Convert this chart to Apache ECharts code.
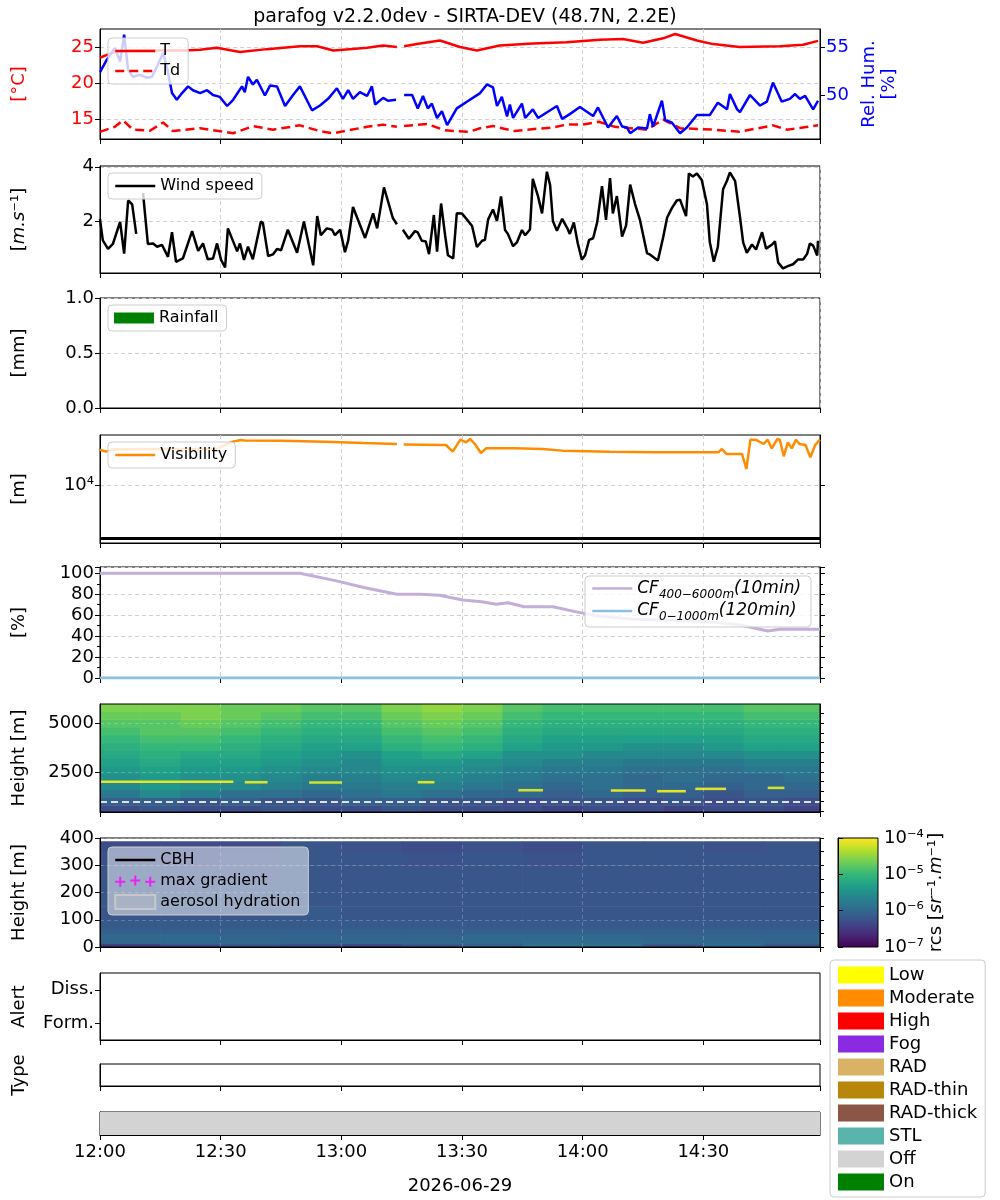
<!DOCTYPE html>
<html>
<head>
<meta charset="utf-8">
<title>parafog</title>
<script src="https://cdn.jsdelivr.net/npm/echarts@6/dist/echarts.min.js"></script>
<style>
html, body { margin: 0; padding: 0; background: #fff; }
#chart { width: 1000px; height: 1200px; }
</style>
</head>
<body>
<div id="chart"></div>
<script>
// all times are minutes after 12:00 (2026-06-29)
var FONT = 'DejaVu Sans';
var GRID_COLOR = '#d0d0d0';

// temperature [°C]
var tempT = [[0,23.5],[1.7,23.9],[3.7,24.3],[7.5,24.5],[15,24.5],[21,24.5],[24.9,24.6],[29,24.9],[34.8,24.3],[41.5,24.7],[49.7,25.1],[54,25.1],[58,24.5],[62,24.7],[66.4,24.9],[70.4,25.2],[73.8,25.0],[74.7,'-'],[75.6,25.1],[78.8,25.4],[84.5,25.9],[89.5,25.0],[93.7,24.5],[99.4,25.2],[107.6,25.5],[116,25.65],[124.3,26.0],[130,26.1],[135,25.6],[140,26.2],[143,26.8],[148.4,25.9],[152.4,25.4],[159,25.0],[169,25.1],[174.8,25.3],[178.5,25.85]];
// dew point [°C]
var tempTd = [[0,13.2],[3.7,13.9],[5.7,14.8],[8.2,13.5],[12.4,13.35],[15.7,14.5],[18.1,13.3],[24.9,13.7],[33.1,13.0],[38.1,14.0],[43,13.5],[49.7,14.1],[54.7,13.3],[58,13.0],[66.4,13.9],[70.4,14.2],[73.8,13.9],[74.7,'-'],[75.6,14.0],[81.3,14.3],[85.8,13.4],[91.7,13.2],[94.5,13.7],[97.7,14.0],[103,13.3],[108,13.6],[112.5,13.8],[116,14.2],[120,14.2],[124,14.6],[128,13.9],[136,13.5],[140,14.9],[144.2,13.7],[152.4,13.5],[159,13.2],[167.3,14.1],[170.8,13.5],[178.5,14.1]];
// relative humidity [%]
var relHum = [[0,52.4],[1.7,53.7],[3.7,54.9],[5,53.5],[6,56.3],[7,52.6],[8.2,51.9],[9.9,52.1],[11.7,51.8],[12.9,51.9],[14.2,53.0],[15.7,54.4],[16.7,52.8],[17.9,50.2],[19.1,49.5],[20.4,50.2],[21.9,50.9],[23.1,50.5],[24.9,50.2],[26.6,50.5],[28.1,50.0],[29.8,49.8],[31.6,48.85],[33.1,49.5],[35.3,50.9],[36,50.3],[36.8,51.9],[38,51.1],[39,51.6],[41,49.95],[42.3,51.0],[44,50.9],[46,48.85],[48,50.0],[49.7,50.9],[52.7,48.4],[54.7,48.9],[56.7,49.6],[58.9,50.7],[60.4,49.6],[61.7,50.5],[62.9,49.6],[64.6,50.3],[66.4,49.9],[67.6,50.9],[68.4,49.0],[70.4,49.7],[71.6,49.4],[73.6,49.5],[74.7,'-'],[75.6,50.0],[77.6,50.0],[79,48.6],[80.3,49.9],[81.5,48.6],[82.5,49.1],[83.8,47.6],[85,48.3],[86.3,46.85],[88.7,48.6],[91.2,49.3],[94.5,50.2],[96.2,51.1],[97.7,50.8],[98.7,48.85],[99.9,49.8],[101.2,47.75],[101.9,49.0],[102.7,47.6],[104.9,49.1],[105.7,47.6],[107.6,48.5],[108.9,47.6],[113.6,48.85],[114.9,47.5],[116.8,48.0],[119.3,48.75],[122.6,47.8],[123.8,48.7],[126.3,46.6],[128.5,47.8],[129.8,46.7],[131,46.6],[131.8,46.0],[133.8,46.6],[136,46.5],[136.7,48.0],[137.5,46.7],[139.7,49.4],[140.5,47.4],[142.2,47.1],[144.2,46.0],[145.9,46.6],[148.4,47.9],[151.6,47.9],[153.6,49.2],[155.9,48.5],[156.6,50.1],[158.4,48.5],[159.1,48.2],[161.6,50.0],[164.1,48.9],[165.8,49.3],[167.3,51.3],[169.5,49.3],[171.5,49.6],[172.8,50.1],[174,49.6],[175.3,49.9],[177.3,48.5],[178.5,49.4]];
// wind speed [m/s]
var windSpeed = [[0,2.09],[0.7,1.31],[2,1.0],[3.2,1.18],[5,1.99],[6,0.83],[7,2.77],[8,2.63],[9,1.55],[9.8,'-'],[10.7,3.04],[11.9,1.18],[13.2,1.2],[14.2,1.08],[15.4,1.15],[16.9,0.71],[17.9,1.61],[18.9,0.53],[20.6,0.65],[22.9,1.65],[24.4,0.93],[25.6,1.2],[26.8,0.62],[28.1,0.65],[29.1,1.2],[30.1,0.6],[31.1,0.32],[31.8,1.75],[34.1,0.91],[34.8,1.2],[35.8,0.6],[36.8,1.08],[38,0.62],[40,2.0],[40.5,1.95],[41.8,0.74],[43,0.8],[44,1.0],[45,0.95],[46.7,1.7],[49,0.86],[50.7,2.0],[53,0.4],[54,2.2],[54.9,1.5],[56.4,1.75],[57.7,1.7],[58.4,1.5],[59.7,1.7],[60.9,0.88],[61.7,1.3],[62.9,2.53],[65.9,1.4],[67.9,2.3],[68.9,1.75],[70.6,3.25],[72.8,2.13],[73.8,1.9],[74.7,'-'],[75.3,1.7],[76.8,1.37],[78.3,1.65],[79,1.6],[80,1.3],[81,1.27],[81.8,0.81],[83,2.24],[83.8,0.9],[84.8,2.66],[85.8,1.5],[86.5,0.77],[87.8,0.65],[88.7,2.3],[90,2.29],[91.2,2.08],[92.5,1.84],[93.7,1.07],[95,1.3],[95.7,1.33],[96.5,2.08],[97.7,2.44],[98.7,2.02],[99.7,2.92],[100.7,1.69],[101.4,1.55],[102.7,1.1],[103.7,1.25],[104.9,1.69],[105.7,1.5],[106.9,1.71],[107.6,3.56],[108.9,2.92],[109.9,2.3],[111.1,3.82],[111.9,3.33],[112.6,2.02],[113.6,1.66],[114.9,2.1],[116.1,1.78],[116.8,1.55],[117.8,1.97],[118.8,1.19],[119.8,0.61],[120.6,0.77],[121.6,1.33],[122.6,1.39],[123.6,1.97],[124.8,3.29],[125.8,2.06],[126.8,3.59],[127.5,2.3],[128.5,2.93],[129.8,1.45],[130.8,1.86],[131.8,3.35],[133,2.65],[134.2,2.08],[136,0.84],[136.7,0.8],[138.7,0.58],[140,1.42],[141,2.15],[142.2,2.5],[143.4,2.77],[144.2,2.8],[145.7,2.2],[146.4,3.76],[147.4,3.65],[148.4,3.76],[149.6,3.52],[150.9,2.63],[151.6,1.25],[152.6,0.53],[153.6,1.07],[154.9,3.18],[155.9,3.5],[156.6,3.8],[157.9,3.48],[159.1,2.17],[159.9,1.24],[160.8,0.86],[162.1,1.16],[163.1,0.98],[164.6,1.61],[165.6,1.01],[167.1,1.16],[167.8,1.28],[168.6,0.5],[169.8,0.29],[171,0.37],[172.3,0.44],[173.5,0.61],[174.8,0.61],[175.8,0.82],[176.5,1.2],[177.3,1.12],[178.3,0.76],[178.5,1.3]];
// rainfall [mm] (no rain in this period)
var rainfall = [];
// visibility [m]
var visibility = [[0,45800],[1.5,42100],[3,46000],[10,47000],[20,47200],[29,47200],[31,56000],[33,64900],[35,69700],[36,68500],[45,67700],[56,64900],[65.5,61300],[73.8,58600],[74.6,'-'],[75.5,57500],[86,56100],[87.7,42100],[89.6,70600],[91,63000],[92,72800],[93.2,58600],[94.7,39700],[96,48500],[103,48500],[110,47200],[115,44000],[126.7,42100],[138,40800],[153.7,40800],[154.6,47200],[155.8,38000],[159.6,38000],[160.7,19900],[161.7,70600],[163,70600],[165,58600],[166,70600],[167,48500],[168.4,72800],[169,70600],[170,34400],[171,63000],[172,48500],[173,70600],[173.9,58600],[175.4,56100],[176.6,32900],[177.8,56100],[179,70600]];
var fogVisThreshold = 1000;
// cloud fraction [%]
var cfHigh = [[0,100],[49.7,100],[58.5,93],[65.6,86.5],[73.8,80],[79.7,80],[84.4,79],[90.2,74.4],[94.9,72.8],[98.5,70.5],[101.4,71.8],[105.5,68],[112.6,68],[119.6,62.2],[124.3,59],[132.5,56],[140,55.5],[150,54],[156,52],[159.6,50.3],[166,44.9],[169,46.5],[179,46.5]];
var cfLow = [[0,0],[179,0]];

// ceilometer range-corrected signal, log10(rcs), 400-6000 m
var upperTimeEdges = [0,10,20,30,40,50,60,70,80,90,100,110,120,130,140,150,160,170,179];
var upperHeightEdges = [450,800,1200,1600,2000,2400,2800,3200,3600,4000,4400,4800,5200,5600,5980];
var upperRcs = [
  [-6.3,-6.2,-6.3,-6.3,-6.2,-6.3,-6.3,-6.2,-6.3,-6.3,-6.3,-6.4,-6.3,-6.3,-6.4,-6.3,-6.3,-6.4],
  [-6.1,-6.1,-6.2,-6.1,-6.2,-6.2,-6.1,-6.1,-6.2,-6.2,-6.3,-6.2,-6.2,-6.3,-6.2,-6.3,-6.2,-6.3],
  [-5.8,-5.6,-5.7,-5.9,-5.9,-6.0,-5.9,-5.8,-5.9,-6.0,-6.0,-6.1,-6.0,-6.1,-6.1,-6.2,-6.1,-6.1],
  [-5.6,-5.4,-5.5,-5.6,-5.7,-5.8,-5.8,-5.7,-5.7,-5.8,-5.9,-6.0,-5.9,-6.0,-6.0,-6.1,-6.0,-6.0],
  [-5.5,-5.4,-5.5,-5.5,-5.6,-5.7,-5.7,-5.6,-5.6,-5.7,-5.8,-5.9,-5.9,-6.0,-5.9,-6.0,-6.0,-5.9],
  [-5.4,-5.3,-5.4,-5.4,-5.5,-5.6,-5.6,-5.5,-5.5,-5.6,-5.7,-5.8,-5.8,-5.9,-5.9,-5.9,-5.8,-5.8],
  [-5.3,-5.2,-5.3,-5.3,-5.4,-5.5,-5.6,-5.4,-5.4,-5.5,-5.6,-5.7,-5.7,-5.8,-5.8,-5.8,-5.7,-5.7],
  [-5.2,-5.1,-5.2,-5.2,-5.3,-5.4,-5.5,-5.3,-5.2,-5.3,-5.5,-5.5,-5.6,-5.6,-5.6,-5.6,-5.5,-5.5],
  [-5.1,-5.0,-5.0,-5.1,-5.2,-5.3,-5.3,-5.1,-5.0,-5.1,-5.3,-5.4,-5.4,-5.5,-5.5,-5.4,-5.3,-5.3],
  [-5.0,-4.9,-4.9,-5.0,-5.1,-5.2,-5.2,-5.0,-4.9,-5.0,-5.2,-5.3,-5.3,-5.3,-5.3,-5.3,-5.2,-5.2],
  [-4.9,-4.8,-4.8,-4.9,-5.0,-5.1,-5.1,-4.9,-4.8,-4.9,-5.1,-5.2,-5.2,-5.2,-5.2,-5.2,-5.1,-5.1],
  [-4.8,-4.8,-4.7,-4.8,-4.9,-5.0,-5.0,-4.8,-4.7,-4.8,-5.0,-5.1,-5.1,-5.1,-5.1,-5.1,-5.0,-5.0],
  [-4.7,-4.7,-4.6,-4.7,-4.8,-4.9,-4.9,-4.7,-4.6,-4.7,-4.9,-5.0,-5.0,-5.0,-5.0,-5.0,-4.9,-4.9],
  [-4.6,-4.6,-4.6,-4.7,-4.7,-4.8,-4.8,-4.6,-4.5,-4.6,-4.8,-4.9,-4.9,-4.9,-4.9,-4.9,-4.8,-4.8]
];
// thin strong-return layers: [start, end, height, log10(rcs)]
var cloudLayers = [[0,33,2010,-4.1],[36,41.5,1990,-4.15],[52,60,1980,-4.2],[79,83,1990,-4.15],[104,110,1580,-4.2],[127,135.5,1570,-4.1],[138.5,145.5,1530,-4.1],[148,155.5,1650,-4.15],[166,170,1700,-4.2]];
var aerosolTop = 1000;

// log10(rcs), 0-400 m
var lowerTimeEdges = [0,15,30,45,60,75,90,105,120,135,150,165,179];
var lowerHeightEdges = [0,12,30,50,70,100,150,200,250,300,350,388];
var lowerRcs = [
  [-6.5,-6.3,-6.2,-6.3,-6.4,-6.2,-6.1,-5.9,-5.9,-6.2,-6.0,-6.2],
  [-6.05,-6.0,-6.0,-6.05,-6.0,-6.0,-6.0,-5.95,-5.95,-6.0,-6.0,-6.05],
  [-6.0,-6.0,-6.05,-6.05,-6.05,-6.05,-6.0,-6.0,-6.0,-6.05,-6.05,-6.05],
  [-6.1,-6.1,-6.1,-6.1,-6.1,-6.1,-6.1,-6.1,-6.1,-6.1,-6.1,-6.1],
  [-6.15,-6.15,-6.15,-6.15,-6.15,-6.15,-6.15,-6.15,-6.15,-6.15,-6.15,-6.15],
  [-6.2,-6.2,-6.2,-6.15,-6.2,-6.2,-6.2,-6.2,-6.2,-6.2,-6.2,-6.2],
  [-6.2,-6.2,-6.2,-6.2,-6.2,-6.2,-6.2,-6.2,-6.2,-6.2,-6.2,-6.2],
  [-6.2,-6.25,-6.2,-6.2,-6.2,-6.2,-6.2,-6.2,-6.2,-6.2,-6.2,-6.2],
  [-6.2,-6.25,-6.25,-6.2,-6.2,-6.2,-6.2,-6.2,-6.2,-6.2,-6.2,-6.2],
  [-6.25,-6.3,-6.25,-6.2,-6.2,-6.25,-6.2,-6.25,-6.2,-6.2,-6.2,-6.2],
  [-6.3,-6.3,-6.3,-6.2,-6.25,-6.3,-6.25,-6.3,-6.2,-6.2,-6.25,-6.2]
];
var colorbarRange = [[0, 1, -7, -4]];

// device status spans: [start, end, state]
var statusSpans = [[0, 179, 'Off']];
var alertLevels = ['Form.', 'Diss.'];
var statusNames = ['Low','Moderate','High','Fog','RAD','RAD-thin','RAD-thick','STL','Off','On'];
var statusColors = ['#ffff00','#ff8c00','#ff0000','#8a2be2','#dab266','#b8860b','#8c5647','#5ab4ac','#d3d3d3','#008000'];

var viridis = ['#440154','#482878','#3e4a89','#31688e','#26828e','#1f9e89','#35b779','#6ece58','#b5de2b','#fde725'];

var sup = {'0':'⁰','1':'¹','2':'²','3':'³','4':'⁴','5':'⁵','6':'⁶','7':'⁷','8':'⁸','9':'⁹','-':'⁻'};
function powTen(e) {
  return '10' + String(e).split('').map(function (c) { return sup[c]; }).join('');
}
function fmtTime(m) {
  var h = 12 + Math.floor(m / 60), mm = Math.round(m % 60);
  return h + ':' + (mm < 10 ? '0' : '') + mm;
}

function cellsFrom(timeEdges, heightEdges, grid) {
  var out = [];
  grid.forEach(function (row, i) {
    row.forEach(function (v, j) {
      out.push([timeEdges[j], timeEdges[j + 1], heightEdges[i], heightEdges[i + 1], v]);
    });
  });
  return out;
}
var LAYER_HALF = 50;
var upperCells = cellsFrom(upperTimeEdges, upperHeightEdges, upperRcs);
cloudLayers.forEach(function (c) {
  upperCells.push([c[0], c[1], c[2] - LAYER_HALF, c[2] + LAYER_HALF, c[3]]);
});
var lowerCells = cellsFrom(lowerTimeEdges, lowerHeightEdges, lowerRcs);

function renderCell(params, api) {
  var a = api.coord([api.value(0), api.value(3)]);
  var b = api.coord([api.value(1), api.value(2)]);
  return {
    type: 'rect',
    shape: { x: a[0], y: a[1], width: b[0] - a[0] + 0.6, height: b[1] - a[1] + 0.6 },
    style: { fill: api.visual('color') }
  };
}
function renderColorbar(params, api) {
  var a = api.coord([api.value(0), api.value(3)]);
  var b = api.coord([api.value(1), api.value(2)]);
  return {
    type: 'rect',
    shape: { x: a[0], y: a[1], width: b[0] - a[0], height: b[1] - a[1] },
    style: {
      fill: new echarts.graphic.LinearGradient(0, 1, 0, 0, viridis.map(function (c, i) {
        return { offset: i / (viridis.length - 1), color: c };
      }))
    }
  };
}
function renderSpan(params, api) {
  var a = api.coord([api.value(0), 1]);
  var b = api.coord([api.value(1), 0]);
  return {
    type: 'rect',
    shape: { x: a[0], y: a[1], width: b[0] - a[0], height: b[1] - a[1] },
    style: { fill: api.visual('color') }
  };
}

var chart = echarts.init(document.getElementById('chart'));

// panel boxes
var panels = [
  { top: 29, height: 110 },   // 0 T / RH
  { top: 166, height: 107 },  // 1 wind
  { top: 298, height: 110 },  // 2 rain
  { top: 435, height: 108 },  // 3 visibility
  { top: 567, height: 111 },  // 4 cloud fraction
  { top: 704, height: 108 },  // 5 rcs 400-6000
  { top: 838, height: 109 },  // 6 rcs 0-400
  { top: 973, height: 67 },   // 7 alert
  { top: 1064, height: 22 },  // 8 type
  { top: 1112, height: 23 }   // 9 status
];
var grids = panels.map(function (p, i) {
  return { left: 100, width: 720, top: p.top, height: p.height, show: true,
    borderColor: '#000', borderWidth: 1, backgroundColor: 'transparent', z: (i === 5 || i === 6) ? 6 : 0 };
});
grids.push({ left: 838, width: 40, top: 838, height: 109, show: true, borderColor: '#000', borderWidth: 1, z: 6 });

var tickStyle = { show: true, length: 5, lineStyle: { color: '#000', width: 1 } };
var labelBase = { fontSize: 18, color: '#000', fontFamily: FONT, margin: 6 };
var nameStyle = { fontSize: 18, color: '#000', fontFamily: FONT };
function dashed(c) { return { show: true, lineStyle: { color: c || GRID_COLOR, type: [4, 3], width: 1 } }; }
function plain(v) { return String(v); }

var xAxes = panels.map(function (p, i) {
  var last = i === panels.length - 1;
  return {
    type: 'value', gridIndex: i, min: 0, max: 179, interval: 30, z: (i === 5 || i === 6) ? 7 : 0,
    axisLine: { show: true, lineStyle: { color: '#000' } },
    axisTick: tickStyle,
    axisLabel: { show: last, fontSize: 18, color: '#000', fontFamily: FONT, margin: 8, formatter: fmtTime, showMaxLabel: false },
    splitLine: i <= 4 ? dashed() : (i <= 6 ? dashed('rgba(255,255,255,0.22)') : { show: false }),
    name: last ? '2026-06-29' : '', nameLocation: 'middle', nameGap: 42, nameTextStyle: nameStyle
  };
});
xAxes.push({ type: 'value', gridIndex: 10, min: 0, max: 1, show: false });

var NAME_GAP = 72;
var yAxes = [
  { // 0 temperature
    type: 'value', gridIndex: 0, min: 12.2, max: 27.5,
    axisLine: { show: true, lineStyle: { color: '#000' } },
    axisTick: { show: true, length: 5, customValues: [15, 20, 25], lineStyle: { color: '#000' } },
    axisLabel: { fontSize: 18, color: '#ff0000', fontFamily: FONT, margin: 6, customValues: [15, 20, 25] },
    splitLine: dashed(),
    name: '[°C]', nameLocation: 'middle', nameRotate: 90, nameGap: NAME_GAP,
    nameTextStyle: { fontSize: 18, color: '#ff0000', fontFamily: FONT }
  },
  { // 1 relative humidity
    type: 'value', gridIndex: 0, position: 'right', min: 45.4, max: 56.9,
    axisLine: { show: true, lineStyle: { color: '#000' } },
    axisTick: { show: true, length: 5, customValues: [50, 55], lineStyle: { color: '#000' } },
    axisLabel: { fontSize: 18, color: '#0000ff', fontFamily: FONT, margin: 6, customValues: [50, 55] },
    splitLine: { show: false },
    name: 'Rel. Hum.\n[%]', nameLocation: 'middle', nameRotate: 90, nameGap: 38,
    nameTextStyle: { fontSize: 18, color: '#0000ff', fontFamily: FONT, lineHeight: 20 }
  },
  { // 2 wind
    type: 'value', gridIndex: 1, min: 0.12, max: 4.03,
    axisLine: { show: true, lineStyle: { color: '#000' } },
    axisTick: { show: true, length: 5, customValues: [2, 4], lineStyle: { color: '#000' } },
    axisLabel: Object.assign({ customValues: [2, 4] }, labelBase),
    splitLine: dashed(),
    name: '[{i|m.s}⁻¹]', nameLocation: 'middle', nameRotate: 90, nameGap: NAME_GAP,
    nameTextStyle: { fontSize: 18, color: '#000', fontFamily: FONT,
      rich: { i: { fontSize: 18, fontStyle: 'italic', fontFamily: FONT, color: '#000' } } }
  },
  { // 3 rain
    type: 'value', gridIndex: 2, min: 0, max: 1, interval: 0.5,
    axisLine: { show: true, lineStyle: { color: '#000' } },
    axisTick: tickStyle,
    axisLabel: Object.assign({ formatter: function (v) { return v.toFixed(1); } }, labelBase),
    splitLine: dashed(),
    name: '[mm]', nameLocation: 'middle', nameRotate: 90, nameGap: NAME_GAP, nameTextStyle: nameStyle
  },
  { // 4 visibility
    type: 'log', logBase: 10, gridIndex: 3, min: 809, max: 86500,
    axisLine: { show: true, lineStyle: { color: '#000' } },
    axisTick: { show: true, length: 5, customValues: [10000], lineStyle: { color: '#000' } },
    axisLabel: Object.assign({ showMinLabel: false, showMaxLabel: false,
      formatter: function (v) { return Math.abs(v - 10000) < 1 ? powTen(4) : ''; } }, labelBase),
    splitLine: dashed(),
    name: '[m]', nameLocation: 'middle', nameRotate: 90, nameGap: NAME_GAP, nameTextStyle: nameStyle
  },
  { // 5 visibility mirror
    type: 'log', logBase: 10, gridIndex: 3, position: 'right', min: 809, max: 86500,
    axisLine: { show: true, lineStyle: { color: '#000' } },
    axisTick: { show: true, length: 5, customValues: [10000], lineStyle: { color: '#000' } },
    axisLabel: { show: false }, splitLine: { show: false }
  },
  { // 6 cloud fraction
    type: 'value', gridIndex: 4, min: 0, max: 106, interval: 20,
    axisLine: { show: true, lineStyle: { color: '#000' } },
    axisTick: tickStyle,
    minorTick: { show: true, splitNumber: 2, length: 3, lineStyle: { color: '#000' } },
    axisLabel: Object.assign({ showMaxLabel: false }, labelBase),
    splitLine: dashed(),
    name: '[%]', nameLocation: 'middle', nameRotate: 90, nameGap: NAME_GAP, nameTextStyle: nameStyle
  },
  { // 7 cloud fraction mirror
    type: 'value', gridIndex: 4, position: 'right', min: 0, max: 106, interval: 20,
    axisLine: { show: true, lineStyle: { color: '#000' } }, axisTick: tickStyle,
    minorTick: { show: true, splitNumber: 2, length: 3, lineStyle: { color: '#000' } },
    axisLabel: { show: false }, splitLine: { show: false }
  },
  { // 8 height 400-6000
    type: 'value', gridIndex: 5, min: 450, max: 5980, z: 7,
    axisLine: { show: true, lineStyle: { color: '#000' } },
    axisTick: { show: true, length: 5, customValues: [2500, 5000], lineStyle: { color: '#000' } },
    axisLabel: Object.assign({ customValues: [2500, 5000], formatter: plain }, labelBase),
    splitLine: dashed('rgba(255,255,255,0.22)'),
    name: 'Height [m]', nameLocation: 'middle', nameRotate: 90, nameGap: NAME_GAP, nameTextStyle: nameStyle
  },
  { // 9 height mirror
    type: 'value', gridIndex: 5, position: 'right', min: 450, max: 5980, z: 7,
    axisLine: { show: true, lineStyle: { color: '#000' } },
    axisTick: { show: true, length: 4, customValues: [500,1000,1500,2000,2500,3000,3500,4000,4500,5000,5500], lineStyle: { color: '#000' } },
    axisLabel: { show: false }, splitLine: { show: false }
  },
  { // 10 height 0-400
    type: 'value', gridIndex: 6, min: 0, max: 400, interval: 100, z: 7,
    axisLine: { show: true, lineStyle: { color: '#000' } },
    axisTick: tickStyle,
    axisLabel: Object.assign({ formatter: plain }, labelBase),
    splitLine: dashed('rgba(255,255,255,0.22)'),
    name: 'Height [m]', nameLocation: 'middle', nameRotate: 90, nameGap: NAME_GAP, nameTextStyle: nameStyle
  },
  { // 11 height mirror
    type: 'value', gridIndex: 6, position: 'right', min: 0, max: 400, interval: 50, z: 7,
    axisLine: { show: true, lineStyle: { color: '#000' } }, axisTick: { show: true, length: 4, lineStyle: { color: '#000' } },
    axisLabel: { show: false }, splitLine: { show: false }
  },
  { // 12 alert
    type: 'category', gridIndex: 7, data: alertLevels,
    axisLine: { show: true, lineStyle: { color: '#000' } },
    axisTick: { show: true, length: 5, alignWithLabel: true, lineStyle: { color: '#000' } },
    axisLabel: labelBase, splitLine: { show: false },
    name: 'Alert', nameLocation: 'middle', nameRotate: 90, nameGap: NAME_GAP, nameTextStyle: nameStyle
  },
  { // 13 type
    type: 'value', gridIndex: 8, min: 0, max: 1,
    axisLine: { show: true, lineStyle: { color: '#000' } }, axisTick: { show: false },
    axisLabel: { show: false }, splitLine: { show: false },
    name: 'Type', nameLocation: 'middle', nameRotate: 90, nameGap: NAME_GAP, nameTextStyle: nameStyle
  },
  { // 14 status
    type: 'value', gridIndex: 9, min: 0, max: 1,
    axisLine: { show: true, lineStyle: { color: '#000' } }, axisTick: { show: false },
    axisLabel: { show: false }, splitLine: { show: false }
  },
  { // 15 colorbar
    type: 'value', gridIndex: 10, position: 'right', min: -7, max: -4, interval: 1, z: 7,
    axisLine: { show: true, lineStyle: { color: '#000' } }, axisTick: tickStyle,
    axisLabel: Object.assign({ formatter: function (v) { return powTen(v); } }, labelBase),
    splitLine: { show: false },
    name: 'rcs [{i|sr}⁻¹{i|.m}⁻¹]', nameLocation: 'middle', nameRotate: 90, nameGap: 31,
    nameTextStyle: { fontSize: 18, color: '#000', fontFamily: FONT,
      rich: { i: { fontSize: 18, fontStyle: 'italic', fontFamily: FONT, color: '#000' } } }
  }
];

var legendBox = {
  orient: 'vertical', backgroundColor: 'rgba(255,255,255,0.8)', borderColor: '#cccccc',
  borderWidth: 1, borderRadius: 4, padding: [5, 8, 5, 6], itemWidth: 40, itemHeight: 14, itemGap: 4,
  selectedMode: false, textStyle: { fontSize: 16, color: '#000', fontFamily: FONT }
};
function legendAt(left, top, names, extra) {
  return Object.assign({}, legendBox, { left: left, top: top, data: names }, extra || {});
}
// line legends: thick sample line, no marker in its middle
function lineItem(n) { return { name: n, itemStyle: { opacity: 0 }, lineStyle: { width: 2.5 } }; }

var series = [
  { name: 'T', type: 'line', xAxisIndex: 0, yAxisIndex: 0, data: tempT, symbol: 'none', z: 3,
    lineStyle: { color: '#ff0000', width: 2.5 }, itemStyle: { color: '#ff0000' } },
  { name: 'Td', type: 'line', xAxisIndex: 0, yAxisIndex: 0, data: tempTd, symbol: 'none', z: 3,
    lineStyle: { color: '#ff0000', width: 2.5, type: [9, 5] }, itemStyle: { color: '#ff0000' } },
  { name: 'RH', type: 'line', xAxisIndex: 0, yAxisIndex: 1, data: relHum, symbol: 'none', z: 3,
    lineStyle: { color: '#0000ff', width: 2.5 }, itemStyle: { color: '#0000ff' } },
  { name: 'Wind speed', type: 'line', xAxisIndex: 1, yAxisIndex: 2, data: windSpeed, symbol: 'none',
    lineStyle: { color: '#000', width: 2.5 }, itemStyle: { color: '#000' } },
  { name: 'Rainfall', type: 'bar', xAxisIndex: 2, yAxisIndex: 3, data: rainfall, itemStyle: { color: '#008000' } },
  { name: 'Visibility', type: 'line', xAxisIndex: 3, yAxisIndex: 4, data: visibility, symbol: 'none',
    lineStyle: { color: '#ff8c00', width: 2.5 }, itemStyle: { color: '#ff8c00' },
    markLine: { silent: true, symbol: 'none', label: { show: false },
      lineStyle: { color: '#000', width: 3, type: 'solid' }, data: [{ yAxis: fogVisThreshold }] } },
  { name: 'cfHigh', type: 'line', xAxisIndex: 4, yAxisIndex: 6, data: cfHigh, symbol: 'none',
    lineStyle: { color: '#c2aed8', width: 3 }, itemStyle: { color: '#c2aed8' } },
  { name: 'cfLow', type: 'line', xAxisIndex: 4, yAxisIndex: 6, data: cfLow, symbol: 'none',
    lineStyle: { color: '#8cbfe0', width: 3 }, itemStyle: { color: '#8cbfe0' } },
  { name: 'rcsUpper', type: 'custom', xAxisIndex: 5, yAxisIndex: 8, data: upperCells, renderItem: renderCell,
    encode: { x: [0, 1], y: [2, 3] }, clip: true, z: 2,
    markLine: { silent: true, symbol: 'none', label: { show: false },
      lineStyle: { color: '#e0e0e0', width: 2, type: [7, 4] }, data: [{ yAxis: aerosolTop }] } },
  { name: 'rcsLower', type: 'custom', xAxisIndex: 6, yAxisIndex: 10, data: lowerCells, renderItem: renderCell,
    encode: { x: [0, 1], y: [2, 3] }, clip: true, z: 2 },
  { name: 'CBH', type: 'line', xAxisIndex: 6, yAxisIndex: 10, data: [], symbol: 'none',
    lineStyle: { color: '#000', width: 2.5 }, itemStyle: { color: '#000' } },
  { name: 'max gradient', type: 'scatter', xAxisIndex: 6, yAxisIndex: 10, data: [], itemStyle: { color: '#ff00ff' } },
  { name: 'aerosol hydration', type: 'bar', xAxisIndex: 6, yAxisIndex: 10, data: [],
    itemStyle: { color: 'rgba(200,200,200,0.25)', borderColor: '#c8c8c8', borderWidth: 2 } },
  { name: 'colorbar', type: 'custom', xAxisIndex: 10, yAxisIndex: 15, data: colorbarRange,
    renderItem: renderColorbar, encode: { x: [0, 1], y: [2, 3] }, silent: true },
  { name: 'Off', type: 'custom', xAxisIndex: 9, yAxisIndex: 14, data: statusSpans, renderItem: renderSpan,
    encode: { x: [0, 1] }, itemStyle: { color: '#d3d3d3' } }
];
statusNames.forEach(function (n, i) {
  if (n === 'Off') return;
  series.push({ name: n, type: 'bar', xAxisIndex: 8, yAxisIndex: 13, data: [], itemStyle: { color: statusColors[i] } });
});

var plusIcon = 'path://M0,3.2h8v1.6h-8z M3.2,0h1.6v8h-1.6z M12,2.2h8v1.6h-8z M15.2,-1h1.6v8h-1.6z M24,3.2h8v1.6h-8z M27.2,0h1.6v8h-1.6z';

var option = {
  animation: false,
  backgroundColor: '#ffffff',
  textStyle: { fontFamily: FONT },
  title: { text: 'parafog v2.2.0dev - SIRTA-DEV (48.7N, 2.2E)', left: 460, top: 3, textAlign: 'center',
    textStyle: { fontSize: 19, fontWeight: 'normal', color: '#000', fontFamily: FONT } },
  grid: grids,
  xAxis: xAxes,
  yAxis: yAxes,
  visualMap: [{ type: 'continuous', show: false, seriesIndex: [8, 9], dimension: 4, min: -7, max: -4,
    inRange: { color: viridis } }],
  legend: [
    legendAt(108, 38, [lineItem('T'), lineItem('Td')]),
    legendAt(108, 173, [lineItem('Wind speed')]),
    legendAt(108, 305, [{ name: 'Rainfall', icon: 'rect' }], { itemHeight: 11 }),
    legendAt(108, 442, [lineItem('Visibility')]),
    legendAt(585, 576, [lineItem('cfHigh'), lineItem('cfLow')], {
      itemGap: 2, padding: [4, 10, 4, 6],
      formatter: function (n) {
        return n === 'cfHigh' ? '{i|CF}{s|400−6000m}{i|(10min)}' : '{i|CF}{s|0−1000m}{i|(120min)}';
      },
      textStyle: { fontSize: 17, color: '#000', fontFamily: FONT,
        rich: { i: { fontSize: 17, fontStyle: 'italic', fontFamily: FONT, lineHeight: 24, color: '#000' },
                s: { fontSize: 12, fontStyle: 'italic', fontFamily: FONT, lineHeight: 13, verticalAlign: 'bottom', color: '#000' } } }
    }),
    legendAt(108, 847, [lineItem('CBH'), { name: 'max gradient', icon: plusIcon }, { name: 'aerosol hydration', icon: 'rect' }],
      { backgroundColor: 'rgba(255,255,255,0.5)', itemGap: 5 }),
    legendAt(830, 960, statusNames.map(function (n) { return { name: n, icon: 'rect' }; }),
      { backgroundColor: '#fff', itemWidth: 46, itemHeight: 17, itemGap: 5, padding: [6, 8, 6, 8],
        textStyle: { fontSize: 18, color: '#000', fontFamily: FONT } })
  ],
  series: series
};
chart.setOption(option);
</script>
</body>
</html>
